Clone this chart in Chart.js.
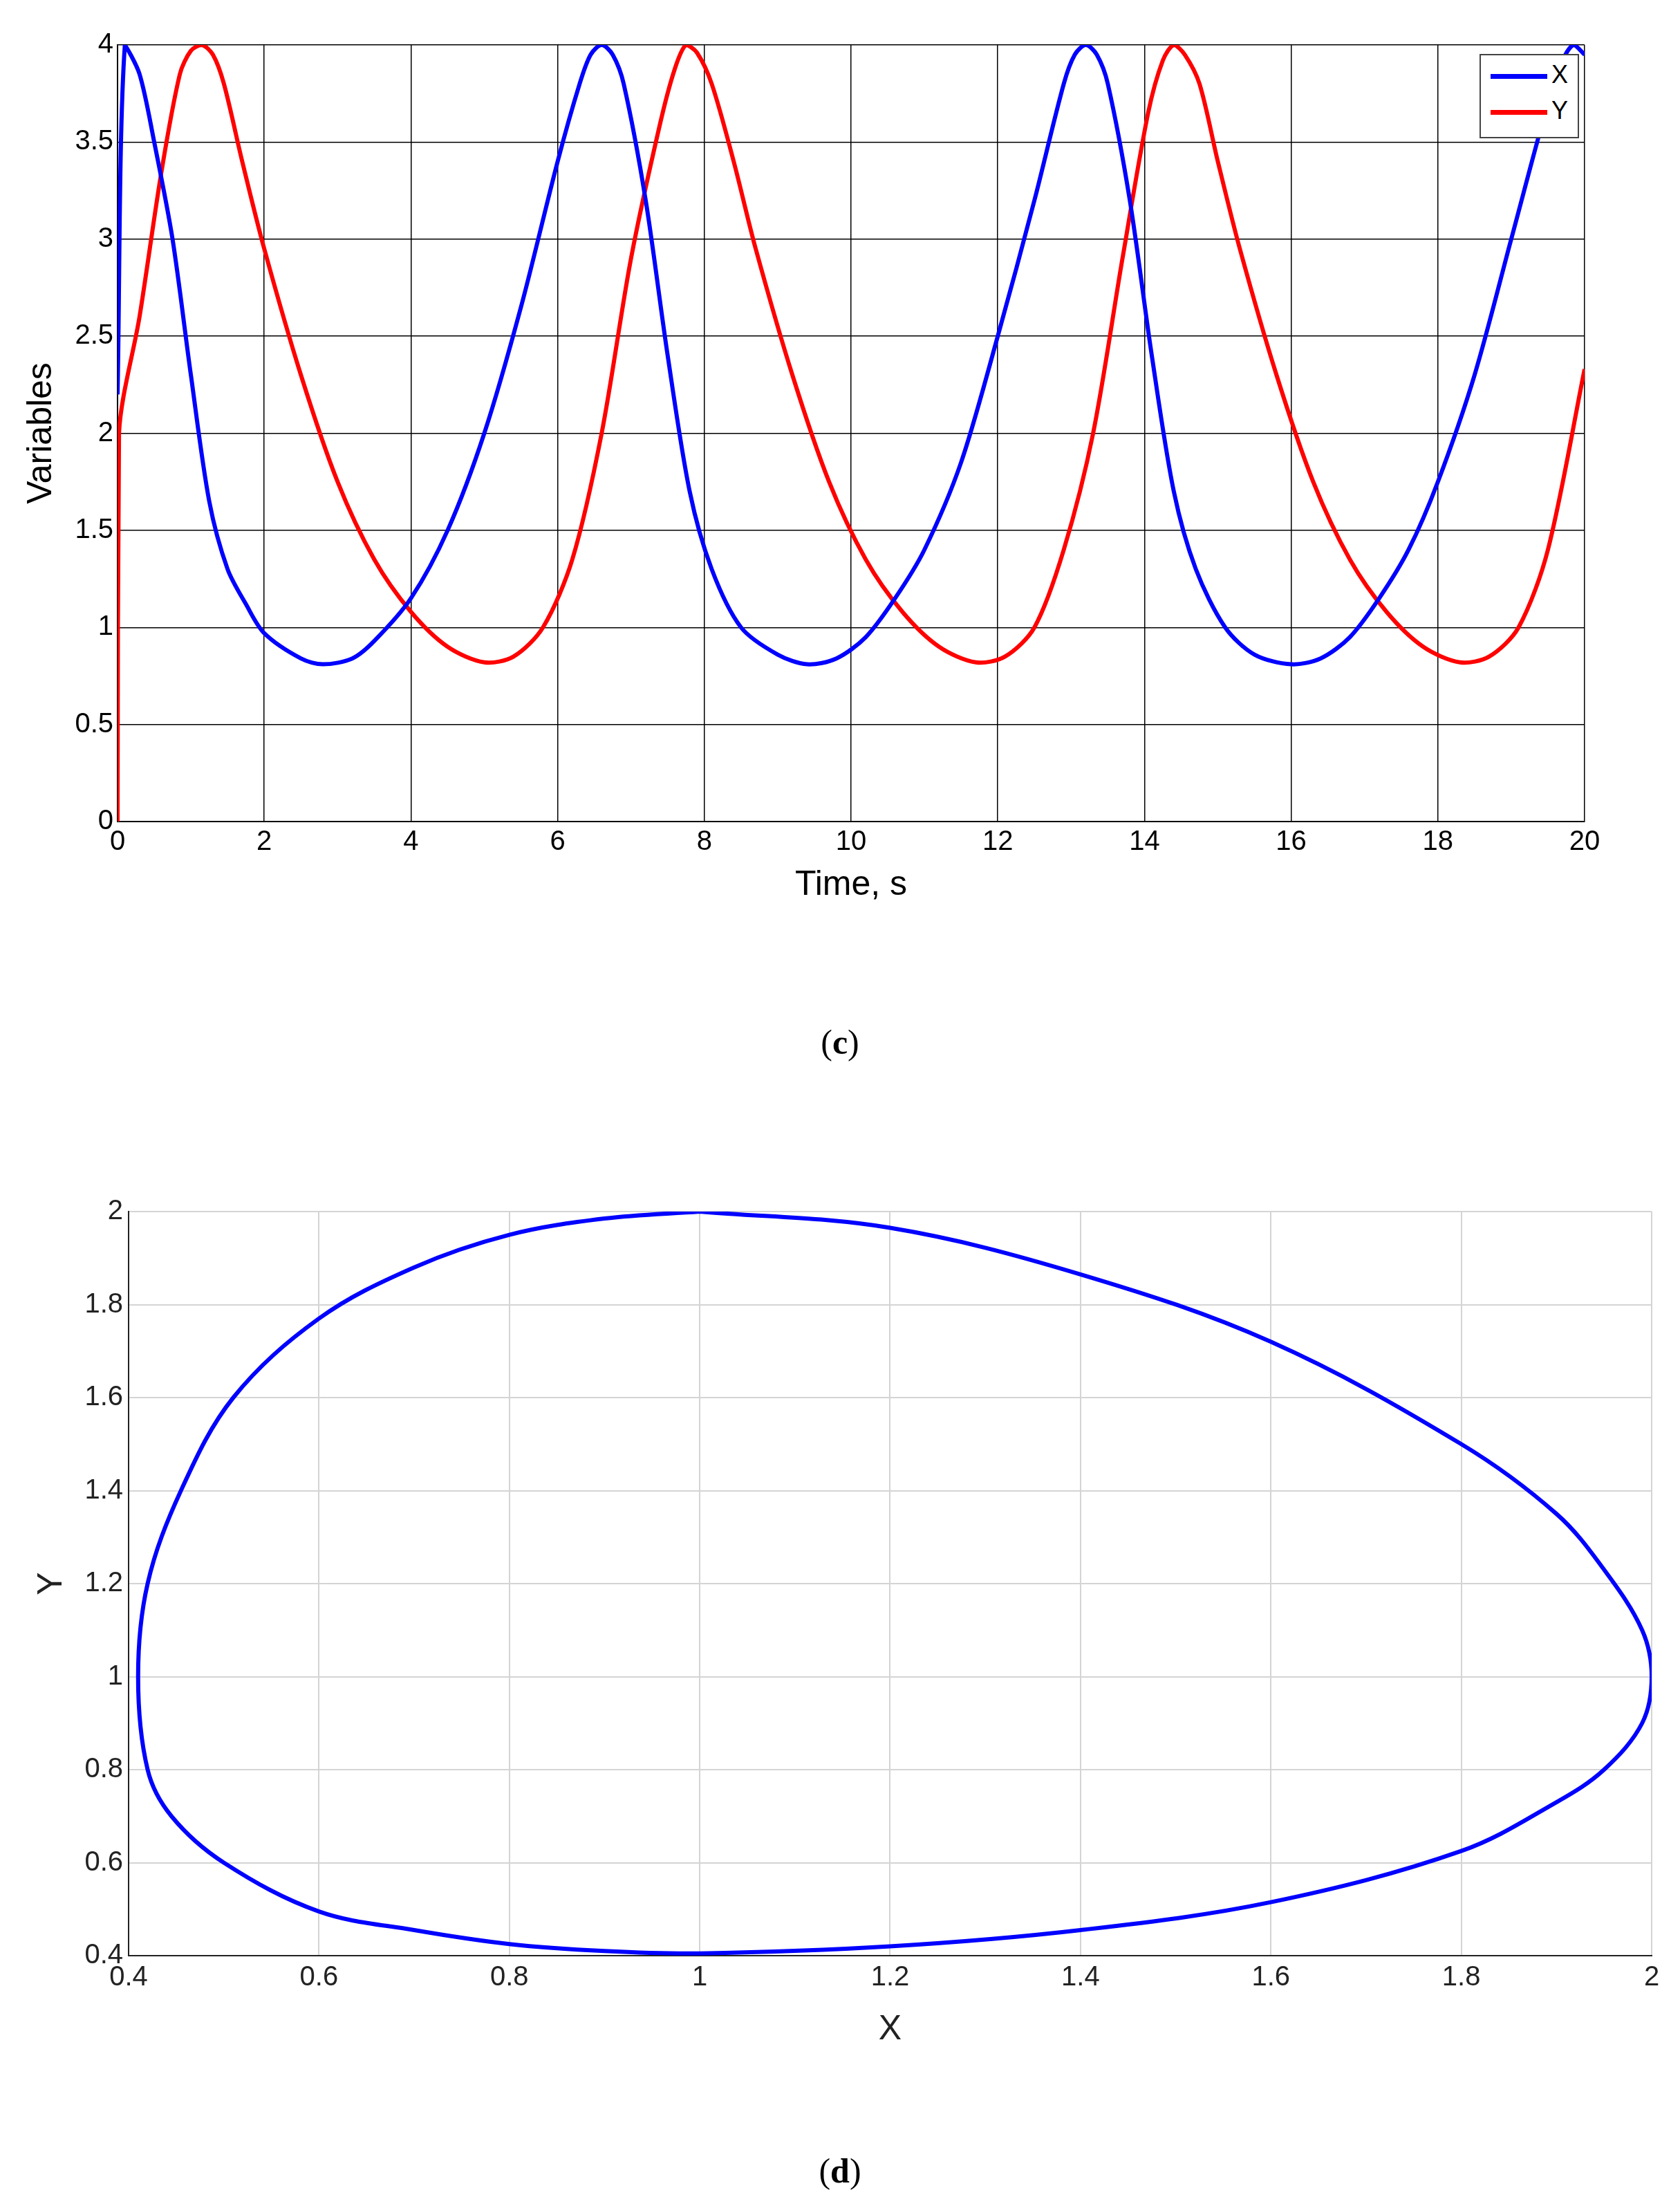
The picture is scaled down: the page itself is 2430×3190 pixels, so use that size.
<!DOCTYPE html>
<html>
<head>
<meta charset="utf-8">
<script src="https://cdn.jsdelivr.net/npm/chart.js@4"></script>
<style>
  body { margin: 0; background: #fff; width: 2430px; height: 3190px; position: relative; }
  .box { position: absolute; left: 0; width: 2430px; height: 1400px; }
  .cap { position: absolute; width: 2430px; text-align: center; font-family: "Liberation Serif", serif; font-size: 50px; }
  .legend { position: absolute; left: 2140px; top: 78px; width: 140px; height: 118px; background: #fff;
            border: 2px solid #444; font-family: "Liberation Sans", sans-serif; font-size: 36px; }
  .legend div { position: absolute; left: 14px; height: 40px; line-height: 40px; }
  .legend span { display: inline-block; width: 82px; height: 7px; vertical-align: middle; margin-right: 6px; }
</style>
</head>
<body>
<div class="box" style="top:0"><canvas id="timeChart"></canvas></div>
<div class="legend">
  <div style="top:8px"><span style="background:#0000ff"></span>X</div>
  <div style="top:60px"><span style="background:#ff0000"></span>Y</div>
</div>
<div class="cap" style="top:1478px">(<b>c</b>)</div>
<div class="box" style="top:1650px"><canvas id="phaseChart"></canvas></div>
<div class="cap" style="top:3110px">(<b>d</b>)</div>
<script>
// 时间序列 X(t)
const xTime = [0, 0.1, 0.3, 0.5, 0.75, 1, 1.25, 1.5, 1.75, 2, 2.5, 2.8, 3.2, 3.5, 4, 4.5, 5, 5.5, 6, 6.3, 6.45, 6.6, 6.75, 6.9, 7.2, 7.5, 7.8, 8.1, 8.5, 9, 9.4, 9.8, 10.2, 10.6, 11, 11.5, 12, 12.5, 12.9, 13.05, 13.2, 13.35, 13.5, 13.8, 14.1, 14.4, 14.7, 15.1, 15.5, 16, 16.4, 16.8, 17.2, 17.6, 18, 18.5, 19, 19.5, 19.7, 19.85, 20];
const xValues = [2.2, 4.0, 3.85, 3.5, 3.0, 2.3, 1.65, 1.3, 1.12, 0.97, 0.84, 0.81, 0.84, 0.93, 1.15, 1.5, 2.0, 2.65, 3.4, 3.8, 3.95, 4.0, 3.95, 3.8, 3.2, 2.4, 1.7, 1.3, 1.0, 0.86, 0.81, 0.84, 0.95, 1.15, 1.4, 1.85, 2.5, 3.2, 3.8, 3.95, 4.0, 3.95, 3.8, 3.2, 2.4, 1.7, 1.3, 1.0, 0.86, 0.81, 0.84, 0.95, 1.15, 1.4, 1.75, 2.3, 3.0, 3.7, 3.92, 4.0, 3.95];
// 时间序列 Y(t)
const yTime = [0, 0.02, 0.3, 0.6, 0.85, 1.0, 1.15, 1.3, 1.45, 1.7, 2, 2.5, 3, 3.5, 4, 4.5, 5, 5.4, 5.8, 6.2, 6.6, 7, 7.4, 7.6, 7.75, 7.9, 8.1, 8.4, 8.7, 9.2, 9.7, 10.2, 10.7, 11.2, 11.7, 12.1, 12.5, 12.9, 13.3, 13.7, 14.05, 14.25, 14.4, 14.55, 14.75, 15, 15.3, 15.8, 16.3, 16.8, 17.3, 17.8, 18.3, 18.7, 19.1, 19.5, 20];
const yValues = [0, 2.0, 2.6, 3.35, 3.85, 3.97, 4.0, 3.95, 3.8, 3.4, 2.95, 2.3, 1.75, 1.35, 1.08, 0.9, 0.82, 0.85, 1.0, 1.35, 2.0, 2.9, 3.6, 3.88, 4.0, 3.96, 3.8, 3.4, 2.95, 2.3, 1.75, 1.35, 1.08, 0.9, 0.82, 0.85, 1.0, 1.4, 2.0, 2.9, 3.65, 3.92, 4.0, 3.95, 3.8, 3.4, 2.95, 2.3, 1.75, 1.35, 1.08, 0.9, 0.82, 0.85, 1.0, 1.4, 2.33];
// 相图 (X, Y)
const phaseX = [1, 0.9, 0.8, 0.7, 0.6, 0.51, 0.455, 0.42, 0.41, 0.42, 0.445, 0.5, 0.6, 0.7, 0.8, 0.9, 1, 1.2, 1.4, 1.6, 1.8, 1.9, 1.95, 1.99, 2, 1.99, 1.95, 1.9, 1.8, 1.6, 1.4, 1.2, 1];
const phaseY = [2, 1.985, 1.95, 1.88, 1.77, 1.6, 1.4, 1.2, 1.0, 0.8, 0.7, 0.6, 0.495, 0.455, 0.425, 0.41, 0.405, 0.42, 0.455, 0.515, 0.625, 0.73, 0.8, 0.9, 1.0, 1.1, 1.23, 1.35, 1.5, 1.72, 1.865, 1.965, 2];

const tickFont = { family: '"Liberation Sans", sans-serif', size: 40 };
const titleFont = { family: '"Liberation Sans", sans-serif', size: 50 };
const pts = (xs, ys) => xs.map((x, i) => ({ x: x, y: ys[i] }));

new Chart(document.getElementById('timeChart'), {
    type: 'line',
    data: {
        datasets: [
            { label: 'X', data: pts(xTime, xValues), borderColor: '#0000ff', borderWidth: 6, pointRadius: 0, tension: 0.3 },
            { label: 'Y', data: pts(yTime, yValues), borderColor: '#ff0000', borderWidth: 6, pointRadius: 0, tension: 0.3 }
        ]
    },
    options: {
        responsive: true, maintainAspectRatio: false, animation: false,
        layout: { padding: { top: 65, right: 138, left: 30, bottom: 90 } },
        plugins: { legend: { display: false }, tooltip: { enabled: false } },
        scales: {
            x: {
                type: 'linear', min: 0, max: 20,
                ticks: { stepSize: 2, color: '#000', font: tickFont, padding: 6 },
                grid: { color: '#000', lineWidth: 1.5, drawTicks: false },
                border: { color: '#000', width: 2 },
                title: { display: true, text: 'Time, s', color: '#000', font: titleFont, padding: 0 },
                afterFit: s => { s.height = 122; }
            },
            y: {
                min: 0, max: 4,
                ticks: { stepSize: 0.5, color: '#000', font: tickFont, padding: 6, callback: v => String(+v.toFixed(1)) },
                grid: { color: '#000', lineWidth: 1.5, drawTicks: false },
                border: { color: '#000', width: 2 },
                title: { display: true, text: 'Variables', color: '#000', font: titleFont, padding: 0 },
                afterFit: s => { s.width = 140; }
            }
        }
    }
});

new Chart(document.getElementById('phaseChart'), {
    type: 'scatter',
    data: {
        datasets: [
            { label: 'XY', data: pts(phaseX, phaseY), showLine: true, borderColor: '#0000ff', borderWidth: 6, pointRadius: 0, tension: 0.35 }
        ]
    },
    options: {
        responsive: true, maintainAspectRatio: false, animation: false,
        layout: { padding: { top: 102, right: 41, left: 45, bottom: 85 } },
        plugins: { legend: { display: false }, tooltip: { enabled: false } },
        scales: {
            x: {
                min: 0.4, max: 2,
                ticks: { stepSize: 0.2, color: '#222', font: tickFont, padding: 8, callback: v => String(+v.toFixed(1)) },
                grid: { color: '#d4d4d4', lineWidth: 2, drawTicks: false },
                border: { color: '#222', width: 2 },
                title: { display: true, text: 'X', color: '#222', font: titleFont, padding: 0 },
                afterFit: s => { s.height = 137; }
            },
            y: {
                min: 0.4, max: 2,
                ticks: { stepSize: 0.2, color: '#222', font: tickFont, padding: 8, callback: v => String(+v.toFixed(1)) },
                grid: { color: '#d4d4d4', lineWidth: 2, drawTicks: false },
                border: { color: '#222', width: 2 },
                title: { display: true, text: 'Y', color: '#222', font: titleFont, padding: 0 },
                afterFit: s => { s.width = 141; }
            }
        }
    }
});
</script>
</body>
</html>
